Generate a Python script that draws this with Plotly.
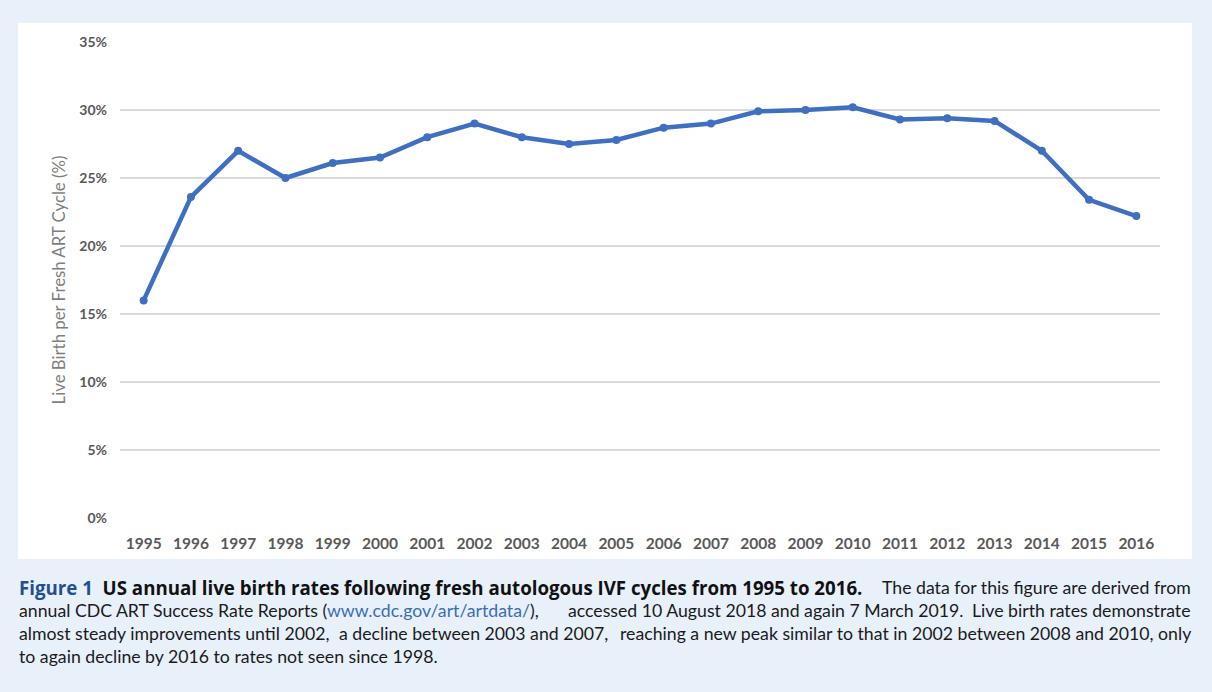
import plotly.graph_objects as go

# Live birth rate per fresh autologous ART cycle (%)
years = [str(y) for y in range(1995, 2017)]
live_birth_rate = [16.0, 23.6, 27.0, 25.0, 26.1, 26.5, 28.0, 29.0, 28.0, 27.5, 27.8,
                   28.7, 29.0, 29.9, 30.0, 30.2, 29.3, 29.4, 29.2, 27.0, 23.4, 22.2]
y_ticks = [0, 5, 10, 15, 20, 25, 30, 35]
y_tick_labels = [f'{v}%' for v in y_ticks]

# Caption text, split in chunks so the lines can be spread out like justified text
caption_title = ("<b><span style='color:#1f4f96'>Figure 1</span>  US annual live birth rates "
                 "following fresh autologous IVF cycles from 1995 to 2016.</b>")
caption_chunks = [
    ["The data for this figure are derived from"],
    ["annual CDC ART Success Rate Reports (<span style='color:#3b6db3'>www.cdc.gov/art/artdata/</span>),",
     "accessed 10 August 2018 and again 7 March 2019.",
     "Live birth rates demonstrate"],
    ["almost steady improvements until 2002,",
     "a decline between 2003 and 2007,",
     "reaching a new peak similar to that in 2002 between 2008 and 2010, only"],
    ["to again decline by 2016 to rates not seen since 1998."],
]

W, H = 1212, 692
L, R, T, B = 120, 52, 42, 174
plot_w, plot_h = W - L - R, H - T - B

# where each caption chunk is pinned (pixel x, anchor)
chunk_places = [
    [(1193, 'right')],
    [(17, 'left'), (965, 'right'), (1193, 'right')],
    [(17, 'left'), (337, 'left'), (1193, 'right')],
    [(17, 'left')],
]


def px_x(x):
    return (x - L) / plot_w


def px_y(y):
    return (H - B - y) / plot_h


fig = go.Figure()

fig.add_trace(go.Scatter(
    x=years,
    y=live_birth_rate,
    mode='lines+markers',
    line={'color': '#3f6fc1', 'width': 4.5},
    marker={'color': '#3f6fc1', 'size': 8},
    showlegend=False,
    hoverinfo='x+y',
))

# White panel behind the chart
fig.add_shape(
    type='rect', xref='paper', yref='paper',
    x0=px_x(18), x1=px_x(1192), y0=px_y(559), y1=px_y(23),
    fillcolor='white', line={'width': 0}, layer='below',
)

# Caption
cap_font = {'family': 'Lato', 'size': 17.7, 'color': '#1a1a1a'}
fig.add_annotation(
    text=caption_title, xref='paper', yref='paper', x=px_x(17), y=px_y(587),
    xanchor='left', yanchor='middle', showarrow=False, align='left',
    font={'family': 'Open Sans', 'size': 18.7, 'color': '#111111'},
)
for i, (chunks, places) in enumerate(zip(caption_chunks, chunk_places)):
    y = px_y(587 + i * 23.2)
    for text, (x, anchor) in zip(chunks, places):
        fig.add_annotation(
            text=text, xref='paper', yref='paper', x=px_x(x), y=y,
            xanchor=anchor, yanchor='middle', showarrow=False, align=anchor, font=cap_font,
        )

fig.update_layout(
    width=W, height=H,
    margin={'l': L, 'r': R, 't': T, 'b': B},
    paper_bgcolor='#e8f0fa',
    plot_bgcolor='white',
    xaxis={
        'type': 'category',
        'range': [-0.5, len(years) - 0.5],
        'showgrid': False,
        'zeroline': False,
        'showline': False,
        'ticks': '',
        'ticklabelstandoff': 14,
        'tickfont': {'family': 'Lato', 'size': 15.5, 'color': '#595959', 'weight': 'bold'},
    },
    yaxis={
        'range': [0, 35],
        'tickvals': y_ticks,
        'ticktext': y_tick_labels,
        'showgrid': True,
        'gridcolor': '#d9d9d9',
        'gridwidth': 1.5,
        'zeroline': False,
        'showline': False,
        'ticks': '',
        'ticklabelstandoff': 12,
        'tickfont': {'family': 'Lato', 'size': 14, 'color': '#595959', 'weight': 'bold'},
        'title': {
            'text': 'Live Birth per Fresh ART Cycle (%)',
            'font': {'family': 'Lato', 'size': 16.8, 'color': '#7f7f7f'},
            'standoff': 9,
        },
    },
)

fig.write_html(
    "out.html",
    config={'displayModeBar': False},
    post_script="document.body.style.margin='0';document.body.style.background='#e8f0fa';",
)
